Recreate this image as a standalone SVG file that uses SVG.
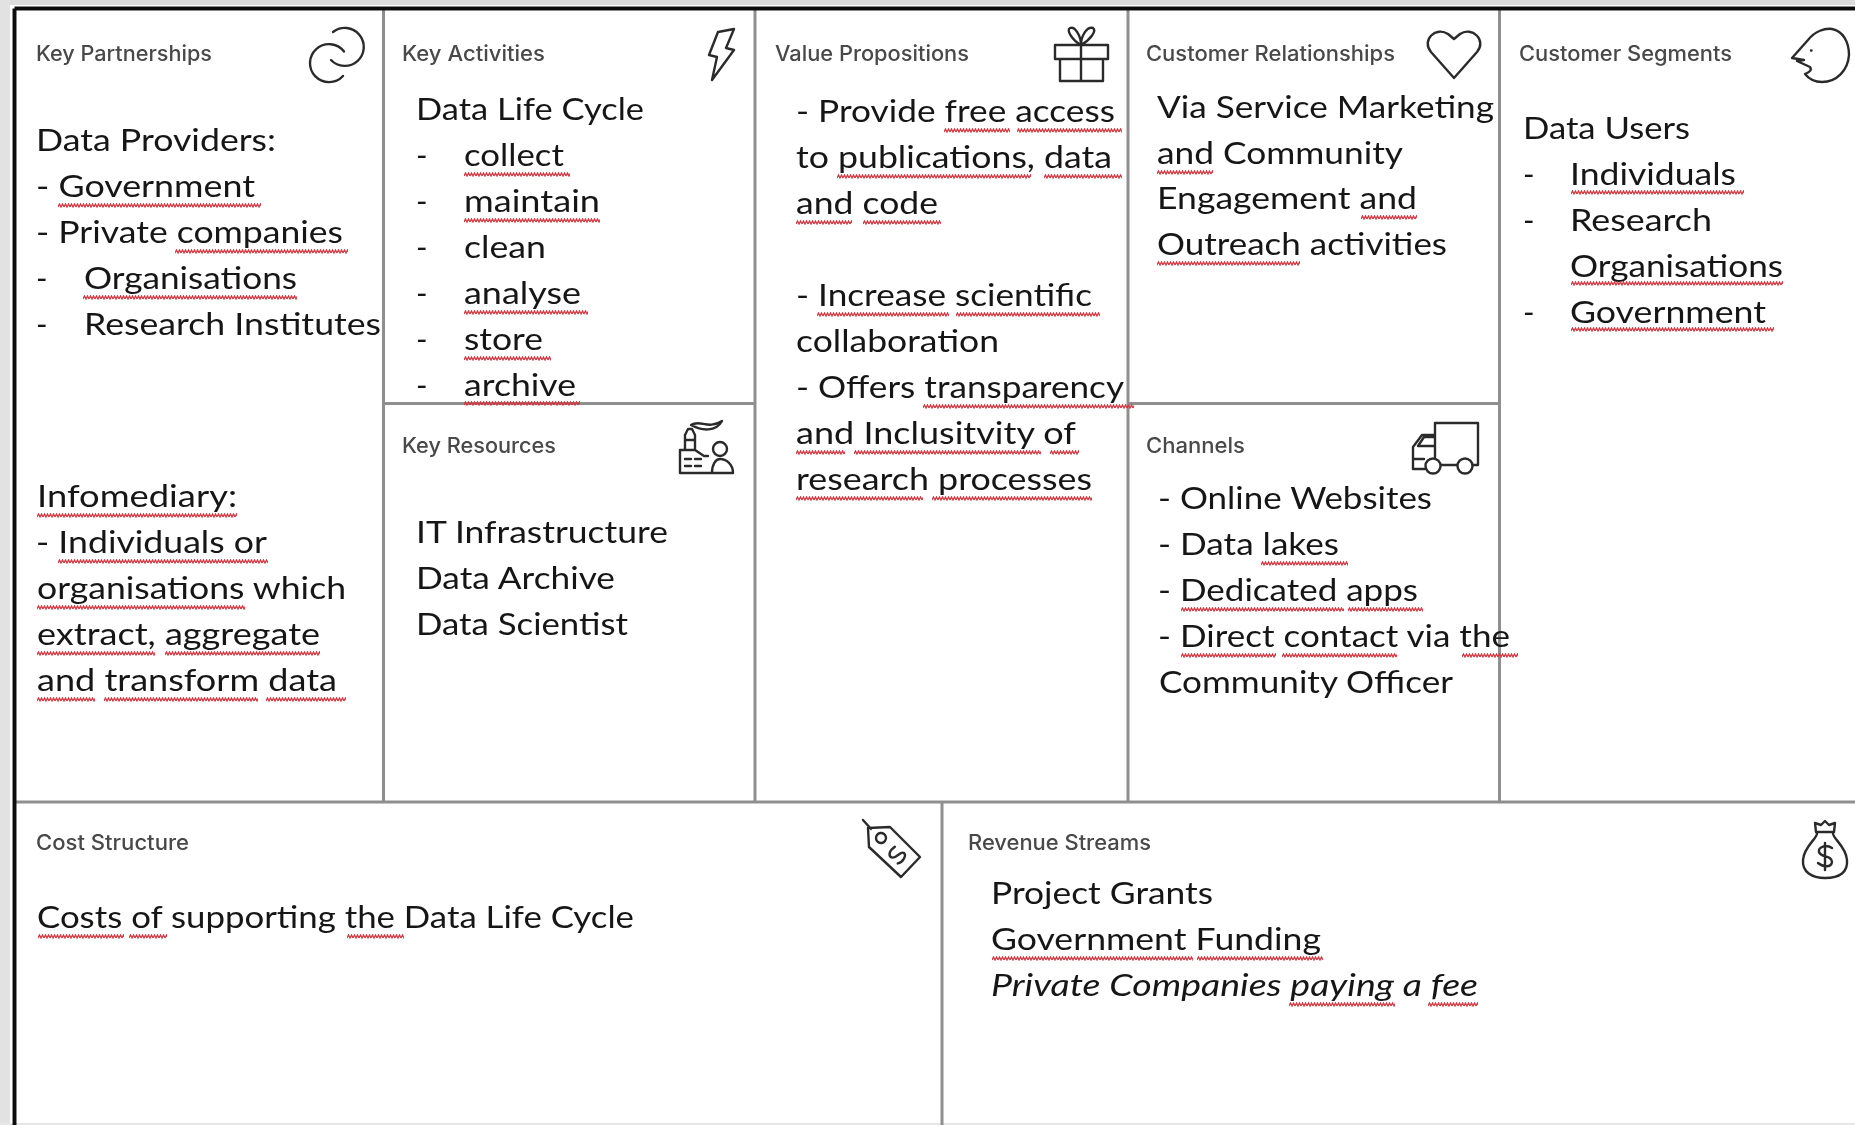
<svg xmlns="http://www.w3.org/2000/svg" width="1855" height="1125" viewBox="0 0 1855 1125">
<style>
.b{font-family:Lato,"Liberation Sans",sans-serif;font-size:31px;fill:#161616}
.l{font-family:Inter,"Liberation Sans",sans-serif;font-size:21px;fill:#484848;font-weight:500}
.g{fill:none;stroke:#8f8f8f;stroke-width:3}
.i{fill:none;stroke:#2c2c2c;stroke-width:2.4;stroke-linejoin:round;stroke-linecap:round}
.s{fill:url(#wave);height:5px}
</style>
<defs>
<pattern id="wave" patternUnits="userSpaceOnUse" width="6" height="5"><path d="M0 4L1.5 1L3 4L4.5 1L6 4" fill="none" stroke="#d5363f" stroke-width="1.3"/></pattern>
<filter id="soft" x="-2%" y="-2%" width="104%" height="104%"><feGaussianBlur stdDeviation="0.7"/></filter>
</defs>
<rect width="1855" height="1125" fill="#fff"/>
<g filter="url(#soft)">
<g id="frame">
<rect x="0" y="0" width="1855" height="5" fill="#dcdcdc"/>
<rect x="0" y="0" width="10" height="1125" fill="#e2e2e2"/>
<rect x="0" y="1123" width="1855" height="2" fill="#e6e6e6"/>
<path class="g" d="M383.5 9V802M755 9V802M1128 9V802M1499.5 9V802M14 802H1855M383.5 403.5H755M1128 403.5H1499.5M942 802V1125"/>
<path d="M14.5 8.5H1855M14.5 8.5V1125" fill="none" stroke="#111" stroke-width="4"/>
</g>
<g id="key-partnerships">
<text class="l" x="36" y="61" textLength="176" lengthAdjust="spacingAndGlyphs">Key Partnerships</text>
<path class="i" d="M333 32A19 19 0 1 1 331 60M343 76A19 19 0 1 1 344 51.5"/>
<text class="b" x="36" y="151" textLength="240" lengthAdjust="spacingAndGlyphs">Data Providers:</text>
<text class="b" x="36" y="197" textLength="219" lengthAdjust="spacingAndGlyphs">- Government</text>
<text class="b" x="36" y="243" textLength="307" lengthAdjust="spacingAndGlyphs">- Private companies</text>
<text class="b" x="36" y="289">-</text><text class="b" x="84" y="289" textLength="213" lengthAdjust="spacingAndGlyphs">Organisations</text>
<text class="b" x="36" y="335">-</text><text class="b" x="84" y="335" textLength="297" lengthAdjust="spacingAndGlyphs">Research Institutes</text>
<text class="b" x="37" y="507" textLength="200" lengthAdjust="spacingAndGlyphs">Infomediary:</text>
<text class="b" x="36" y="553" textLength="231" lengthAdjust="spacingAndGlyphs">- Individuals or</text>
<text class="b" x="37" y="599" textLength="309" lengthAdjust="spacingAndGlyphs">organisations which</text>
<text class="b" x="37" y="645" textLength="283" lengthAdjust="spacingAndGlyphs">extract, aggregate</text>
<text class="b" x="37" y="691" textLength="300" lengthAdjust="spacingAndGlyphs">and transform data</text>
<rect class="s" width="203" transform="translate(58 203)"/><rect class="s" width="173" transform="translate(175 249)"/><rect class="s" width="214" transform="translate(83 295)"/><rect class="s" width="200" transform="translate(37 513)"/><rect class="s" width="210" transform="translate(58 559)"/><rect class="s" width="208" transform="translate(37 605)"/><rect class="s" width="118" transform="translate(37 651)"/><rect class="s" width="155" transform="translate(165 651)"/><rect class="s" width="58" transform="translate(37 697)"/><rect class="s" width="154" transform="translate(104 697)"/><rect class="s" width="80" transform="translate(266 697)"/>
</g>
<g id="key-activities">
<text class="l" x="402" y="61" textLength="143" lengthAdjust="spacingAndGlyphs">Key Activities</text>
<path class="i" d="M718 32L734 29L726 48L734 50L712 80L717 57L709 55Z"/>
<text class="b" x="416" y="120" textLength="228" lengthAdjust="spacingAndGlyphs">Data Life Cycle</text>
<text class="b" x="416" y="166">-</text><text class="b" x="464" y="166" textLength="100" lengthAdjust="spacingAndGlyphs">collect</text>
<text class="b" x="416" y="212">-</text><text class="b" x="464" y="212" textLength="136" lengthAdjust="spacingAndGlyphs">maintain</text>
<text class="b" x="416" y="258">-</text><text class="b" x="464" y="258" textLength="82" lengthAdjust="spacingAndGlyphs">clean</text>
<text class="b" x="416" y="304">-</text><text class="b" x="464" y="304" textLength="117" lengthAdjust="spacingAndGlyphs">analyse</text>
<text class="b" x="416" y="350">-</text><text class="b" x="464" y="350" textLength="79" lengthAdjust="spacingAndGlyphs">store</text>
<text class="b" x="416" y="396">-</text><text class="b" x="464" y="396" textLength="112" lengthAdjust="spacingAndGlyphs">archive</text>
<rect class="s" width="106" transform="translate(464 172)"/><rect class="s" width="136" transform="translate(464 218)"/><rect class="s" width="124" transform="translate(464 310)"/><rect class="s" width="87" transform="translate(464 356)"/><rect class="s" width="116" transform="translate(464 401)"/>
</g>
<g id="key-resources">
<text class="l" x="402" y="453" textLength="154" lengthAdjust="spacingAndGlyphs">Key Resources</text>
<path class="i" d="M680 473V450H695L704 456H708M680 473H711M685 450V435L688 429H692L695 435V450M685 440H695M685 459H691M695 459H701M685 466H691M695 466H701M691 425C700 419 708 430 722 421C716 432 702 431 691 425ZM712 473C712 464 716 459 720 459C726 459 733 464 733 473H712"/>
<circle class="i" cx="720" cy="449" r="7"/>
<text class="b" x="416" y="543" textLength="252" lengthAdjust="spacingAndGlyphs">IT Infrastructure</text>
<text class="b" x="416" y="589" textLength="199" lengthAdjust="spacingAndGlyphs">Data Archive</text>
<text class="b" x="416" y="635" textLength="212" lengthAdjust="spacingAndGlyphs">Data Scientist</text>
</g>
<g id="value-propositions">
<text class="l" x="775" y="61" textLength="194" lengthAdjust="spacingAndGlyphs">Value Propositions</text>
<path class="i" d="M1055 45H1108V59H1055ZM1060 59H1103V81H1060ZM1081 45V81M1081 45C1072 40 1066 30 1070 28C1075 26 1081 36 1081 45C1081 36 1087 26 1093 28C1097 31 1090 40 1081 45"/>
<text class="b" x="796" y="122" textLength="319" lengthAdjust="spacingAndGlyphs">- Provide free access</text>
<text class="b" x="796" y="168" textLength="316" lengthAdjust="spacingAndGlyphs">to publications, data</text>
<text class="b" x="796" y="214" textLength="142" lengthAdjust="spacingAndGlyphs">and code</text>
<text class="b" x="796" y="306" textLength="296" lengthAdjust="spacingAndGlyphs">- Increase scientific</text>
<text class="b" x="796" y="352" textLength="203" lengthAdjust="spacingAndGlyphs">collaboration</text>
<text class="b" x="796" y="398" textLength="328" lengthAdjust="spacingAndGlyphs">- Offers transparency</text>
<text class="b" x="796" y="444" textLength="280" lengthAdjust="spacingAndGlyphs">and Inclusitvity of</text>
<text class="b" x="796" y="490" textLength="296" lengthAdjust="spacingAndGlyphs">research processes</text>
<rect class="s" width="66" transform="translate(944 128)"/><rect class="s" width="105" transform="translate(1017 128)"/><rect class="s" width="194" transform="translate(837 174)"/><rect class="s" width="78" transform="translate(1044 174)"/><rect class="s" width="56" transform="translate(796 220)"/><rect class="s" width="78" transform="translate(863 220)"/><rect class="s" width="132" transform="translate(817 312)"/><rect class="s" width="144" transform="translate(956 312)"/><rect class="s" width="211" transform="translate(923 404)"/><rect class="s" width="49" transform="translate(796 450)"/><rect class="s" width="187" transform="translate(854 450)"/><rect class="s" width="29" transform="translate(1050 450)"/><rect class="s" width="127" transform="translate(796 496)"/><rect class="s" width="160" transform="translate(932 496)"/>
</g>
<g id="customer-relationships">
<text class="l" x="1146" y="61" textLength="249" lengthAdjust="spacingAndGlyphs">Customer Relationships</text>
<path class="i" d="M1454 78L1431 52C1421 40 1436 26 1448 34L1454 39L1460 34C1472 26 1487 40 1477 52Z" stroke-width="2"/>
<text class="b" x="1157" y="118" textLength="337" lengthAdjust="spacingAndGlyphs">Via Service Marketing</text>
<text class="b" x="1157" y="164" textLength="246" lengthAdjust="spacingAndGlyphs">and Community</text>
<text class="b" x="1157" y="209" textLength="260" lengthAdjust="spacingAndGlyphs">Engagement and</text>
<text class="b" x="1157" y="255" textLength="290" lengthAdjust="spacingAndGlyphs">Outreach activities</text>
<rect class="s" width="56" transform="translate(1157 170)"/><rect class="s" width="56" transform="translate(1361 215)"/><rect class="s" width="143" transform="translate(1157 261)"/>
</g>
<g id="channels">
<text class="l" x="1146" y="453" textLength="99" lengthAdjust="spacingAndGlyphs">Channels</text>
<path class="i" d="M1435 423H1478V465H1472.5M1457 465H1441M1435 423V457M1435 435H1422L1413 447V469H1425M1435 446H1418L1424 437H1435M1413 459H1424"/>
<circle class="i" cx="1433" cy="466" r="7.5"/><circle class="i" cx="1465" cy="466" r="7.5"/>
<text class="b" x="1158" y="509" textLength="274" lengthAdjust="spacingAndGlyphs">- Online Websites</text>
<text class="b" x="1158" y="555" textLength="181" lengthAdjust="spacingAndGlyphs">- Data lakes</text>
<text class="b" x="1158" y="601" textLength="260" lengthAdjust="spacingAndGlyphs">- Dedicated apps</text>
<text class="b" x="1158" y="647" textLength="352" lengthAdjust="spacingAndGlyphs">- Direct contact via the</text>
<text class="b" x="1159" y="693" textLength="294" lengthAdjust="spacingAndGlyphs">Community Officer</text>
<rect class="s" width="87" transform="translate(1261 561)"/><rect class="s" width="163" transform="translate(1181 607)"/><rect class="s" width="75" transform="translate(1348 607)"/><rect class="s" width="95" transform="translate(1181 653)"/><rect class="s" width="115" transform="translate(1282 653)"/><rect class="s" width="56" transform="translate(1462 653)"/>
</g>
<g id="customer-segments">
<text class="l" x="1519" y="61" textLength="213" lengthAdjust="spacingAndGlyphs">Customer Segments</text>
<path class="i" d="M1808 40C1815 31 1825 28 1832 29C1843 31 1849 42 1849 55C1848 70 1837 82 1822 82C1815 82 1809 79 1805 74C1810 72 1812 70 1810 67L1797 61L1804 60L1792 58ZM1811 50.5h.5" stroke-width="2"/>
<text class="b" x="1523" y="139" textLength="167" lengthAdjust="spacingAndGlyphs">Data Users</text>
<text class="b" x="1523" y="185">-</text><text class="b" x="1570" y="185" textLength="166" lengthAdjust="spacingAndGlyphs">Individuals</text>
<text class="b" x="1523" y="231">-</text><text class="b" x="1570" y="231" textLength="142" lengthAdjust="spacingAndGlyphs">Research</text>
<text class="b" x="1570" y="277" textLength="213" lengthAdjust="spacingAndGlyphs">Organisations</text>
<text class="b" x="1523" y="323">-</text><text class="b" x="1570" y="323" textLength="196" lengthAdjust="spacingAndGlyphs">Government</text>
<rect class="s" width="173" transform="translate(1571 190)"/><rect class="s" width="212" transform="translate(1571 281)"/><rect class="s" width="203" transform="translate(1571 327)"/>
</g>
<g id="cost-structure">
<text class="l" x="36" y="850" textLength="153" lengthAdjust="spacingAndGlyphs">Cost Structure</text>
<path class="i" d="M863 820L871 829M868 828L890 827L920 857L901 877L869 847ZM885 841A5 5 0 1 1 877 835A5 5 0 1 1 885 841" stroke-width="2"/>
<path class="i" d="M5 -7C-2 -9 -7 -6 -5 -2C-3 2 6 0 6 4C6 8 -2 9 -6 6" transform="translate(897 855) rotate(-50)" stroke-width="2"/>
<text class="b" x="37" y="928" textLength="597" lengthAdjust="spacingAndGlyphs">Costs of supporting the Data Life Cycle</text>
<rect class="s" width="86" transform="translate(38 934)"/><rect class="s" width="38" transform="translate(129 934)"/><rect class="s" width="57" transform="translate(347 934)"/>
</g>
<g id="revenue-streams">
<text class="l" x="968" y="850" textLength="183" lengthAdjust="spacingAndGlyphs">Revenue Streams</text>
<path class="i" d="M1816 832L1815 823L1821 825L1825 821L1829 825L1835 823L1834 832ZM1816 832H1834M1817 833C1818 838 1804 846 1803 860C1802 872 1812 878 1825 878C1840 878 1848 872 1847 860C1846 846 1832 838 1833 833M1825 843V870M1832 848C1826 844 1818 847 1819 852C1821 858 1832 855 1832 862C1831 868 1823 867 1818 863"/>
<text class="b" x="991" y="904" textLength="222" lengthAdjust="spacingAndGlyphs">Project Grants</text>
<text class="b" x="991" y="950" textLength="330" lengthAdjust="spacingAndGlyphs">Government Funding</text>
<text class="b" x="991" y="996" font-style="italic" textLength="487" lengthAdjust="spacingAndGlyphs">Private Companies paying a fee</text>
<rect class="s" width="201" transform="translate(992 956)"/><rect class="s" width="126" transform="translate(1197 956)"/><rect class="s" width="106" transform="translate(1289 1002)"/><rect class="s" width="50" transform="translate(1428 1002)"/>
</g>
</g>
</svg>
